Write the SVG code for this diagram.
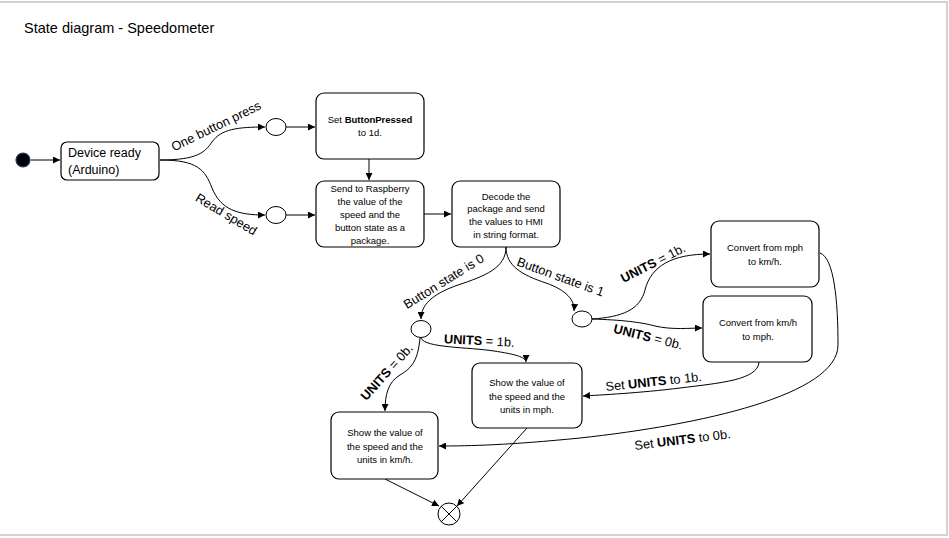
<svg xmlns="http://www.w3.org/2000/svg" width="949" height="538" viewBox="0 0 949 538">
<defs>
<marker id="arr" viewBox="0 0 10 10" refX="10" refY="5" markerWidth="7" markerHeight="7" markerUnits="userSpaceOnUse" orient="auto">
<path d="M0,0 L10,5 L0,10 z" fill="#000"/>
</marker>
<style>
.box{fill:#fff;stroke:#000;stroke-width:1.2}
.st{fill:#fff;stroke:#000;stroke-width:1}
.c{fill:none;stroke:#000;stroke-width:1;marker-end:url(#arr)}
.cn{fill:none;stroke:#000;stroke-width:1}
.t{font-family:"Liberation Sans",Arial,sans-serif;font-size:9.5px;fill:#000;text-anchor:middle}
.l{font-family:"Liberation Sans",Arial,sans-serif;font-size:12.8px;fill:#000;text-anchor:middle}
.b{font-weight:bold}
</style>
</defs>
<rect x="-1" y="2" width="948" height="533" fill="#fff" stroke="#c4c4c4" stroke-width="1.5"/>
<text x="24" y="33" font-family="Liberation Sans,Arial,sans-serif" font-size="14.5" fill="#000">State diagram - Speedometer</text>

<g id="connectors">
<path class="c" d="M31,160 L60,160"/>
<path class="c" d="M160,160 C198,160 205,152 212,142 C221,129 238,127 265,127"/>
<path class="c" d="M160,160 C198,160 205,170 212,188 C221,210 238,215 265,215"/>
<path class="c" d="M286,127 L315,127"/>
<path class="c" d="M369,159 L369,180"/>
<path class="c" d="M286,215 L315,215"/>
<path class="c" d="M424,214 L451,214"/>
<path class="c" d="M506,247 C506,268 485,276 458,285 C432,294 421,305 421,319"/>
<path class="c" d="M506,247 C506,266 522,275 546,283 C566,290 575,300 574,311"/>
<path class="c" d="M592,319 C622,317 640,310 645,290 C651,266 672,254 710,254"/>
<path class="c" d="M592,319 C622,320 640,322 655,326 C672,330 690,328 702,328"/>
<path class="c" d="M421,338 C425,348 468,347 494,351 C514,354 526,357 526,362"/>
<path class="c" d="M420,338 C418,360 412,368 400,375 C388,382 385,395 385,411"/>
<path class="c" d="M385,479 L439,506"/>
<path class="c" d="M527,428 L457,506"/>
<path class="c" d="M759,362 C758,380 720,383 680,388 C640,393 600,395 583,396"/>
<path class="c" d="M820,253 C834,258 838,300 838,345 C838,395 700,425 580,438 C510,445 470,446 439,446"/>
</g>

<g id="initial"><circle cx="23" cy="160" r="7" fill="#000" stroke="#1f3b6e" stroke-width="1.2"/></g>

<g id="device-ready">
<rect class="box" x="61" y="142" width="98" height="38" rx="6"/>
<text x="68" y="157" font-family="Liberation Sans,Arial,sans-serif" font-size="12.5" fill="#000">Device ready</text>
<text x="68" y="174" font-family="Liberation Sans,Arial,sans-serif" font-size="12.5" fill="#000">(Arduino)</text>
</g>

<g id="choice1"><ellipse class="st" cx="276" cy="127" rx="10" ry="8.5"/></g>
<g id="choice2"><ellipse class="st" cx="276" cy="215" rx="10" ry="8.5"/></g>

<g id="set-button">
<rect class="box" x="316" y="93" width="108" height="66" rx="8"/>
<text class="t" x="370" y="122.5">Set <tspan class="b">ButtonPressed</tspan></text>
<text class="t" x="370" y="136">to 1d.</text>
</g>

<g id="send-raspberry">
<rect class="box" x="316" y="181" width="108" height="66" rx="8"/>
<text class="t" x="370" y="191.5">Send to Raspberry</text>
<text class="t" x="370" y="204.5">the value of the</text>
<text class="t" x="370" y="217.5">speed and the</text>
<text class="t" x="370" y="230.5">button state as a</text>
<text class="t" x="370" y="243.5">package.</text>
</g>

<g id="decode">
<rect class="box" x="452" y="181" width="108" height="66" rx="8"/>
<text class="t" x="506" y="199.5">Decode the</text>
<text class="t" x="506" y="212">package and send</text>
<text class="t" x="506" y="225">the values to HMI</text>
<text class="t" x="506" y="238">in string format.</text>
</g>

<g id="choice3"><ellipse class="st" cx="421" cy="329" rx="10" ry="8.5"/></g>
<g id="choice4"><ellipse class="st" cx="582" cy="319" rx="10" ry="8"/></g>

<g id="convert-mph-kmh">
<rect class="box" x="711" y="221" width="108" height="66" rx="8"/>
<text class="t" x="765" y="251">Convert  from mph</text>
<text class="t" x="765" y="265">to km/h.</text>
</g>

<g id="convert-kmh-mph">
<rect class="box" x="703" y="296" width="109" height="66" rx="8"/>
<text class="t" x="758" y="325.5">Convert  from km/h</text>
<text class="t" x="758" y="340">to mph.</text>
</g>

<g id="show-mph">
<rect class="box" x="472" y="363" width="110" height="65" rx="8"/>
<text class="t" x="527" y="386">Show the value of</text>
<text class="t" x="527" y="399.5">the speed and the</text>
<text class="t" x="527" y="413">units in mph.</text>
</g>

<g id="show-kmh">
<rect class="box" x="331" y="412" width="107" height="67" rx="8"/>
<text class="t" x="385" y="435.5">Show the value of</text>
<text class="t" x="385" y="449.5">the speed and the</text>
<text class="t" x="385" y="462.5">units in km/h.</text>
</g>

<g id="final">
<circle class="st" cx="449" cy="514" r="11"/>
<path class="cn" d="M441.2,506.2 L456.8,521.8 M456.8,506.2 L441.2,521.8"/>
</g>

<g id="labels">
<text class="l" transform="translate(218,130) rotate(-26)">One button press</text>
<text class="l" transform="translate(224,218) rotate(31)">Read speed</text>
<text class="l" transform="translate(446,285) rotate(-32)">Button state is 0</text>
<text class="l" transform="translate(559,281) rotate(20)">Button state is 1</text>
<text class="l" transform="translate(655,267) rotate(-27)"><tspan class="b">UNITS</tspan> = 1b.</text>
<text class="l" transform="translate(647,341) rotate(14)"><tspan class="b">UNITS</tspan> = 0b.</text>
<text class="l" transform="translate(479,345) rotate(3)"><tspan class="b">UNITS</tspan> = 1b.</text>
<text class="l" transform="translate(390,375) rotate(-48)"><tspan class="b">UNITS</tspan> = 0b.</text>
<text class="l" transform="translate(654,386) rotate(-6)">Set <tspan class="b">UNITS</tspan> to 1b.</text>
<text class="l" transform="translate(683,444) rotate(-7)">Set <tspan class="b">UNITS</tspan> to 0b.</text>
</g>
</svg>
